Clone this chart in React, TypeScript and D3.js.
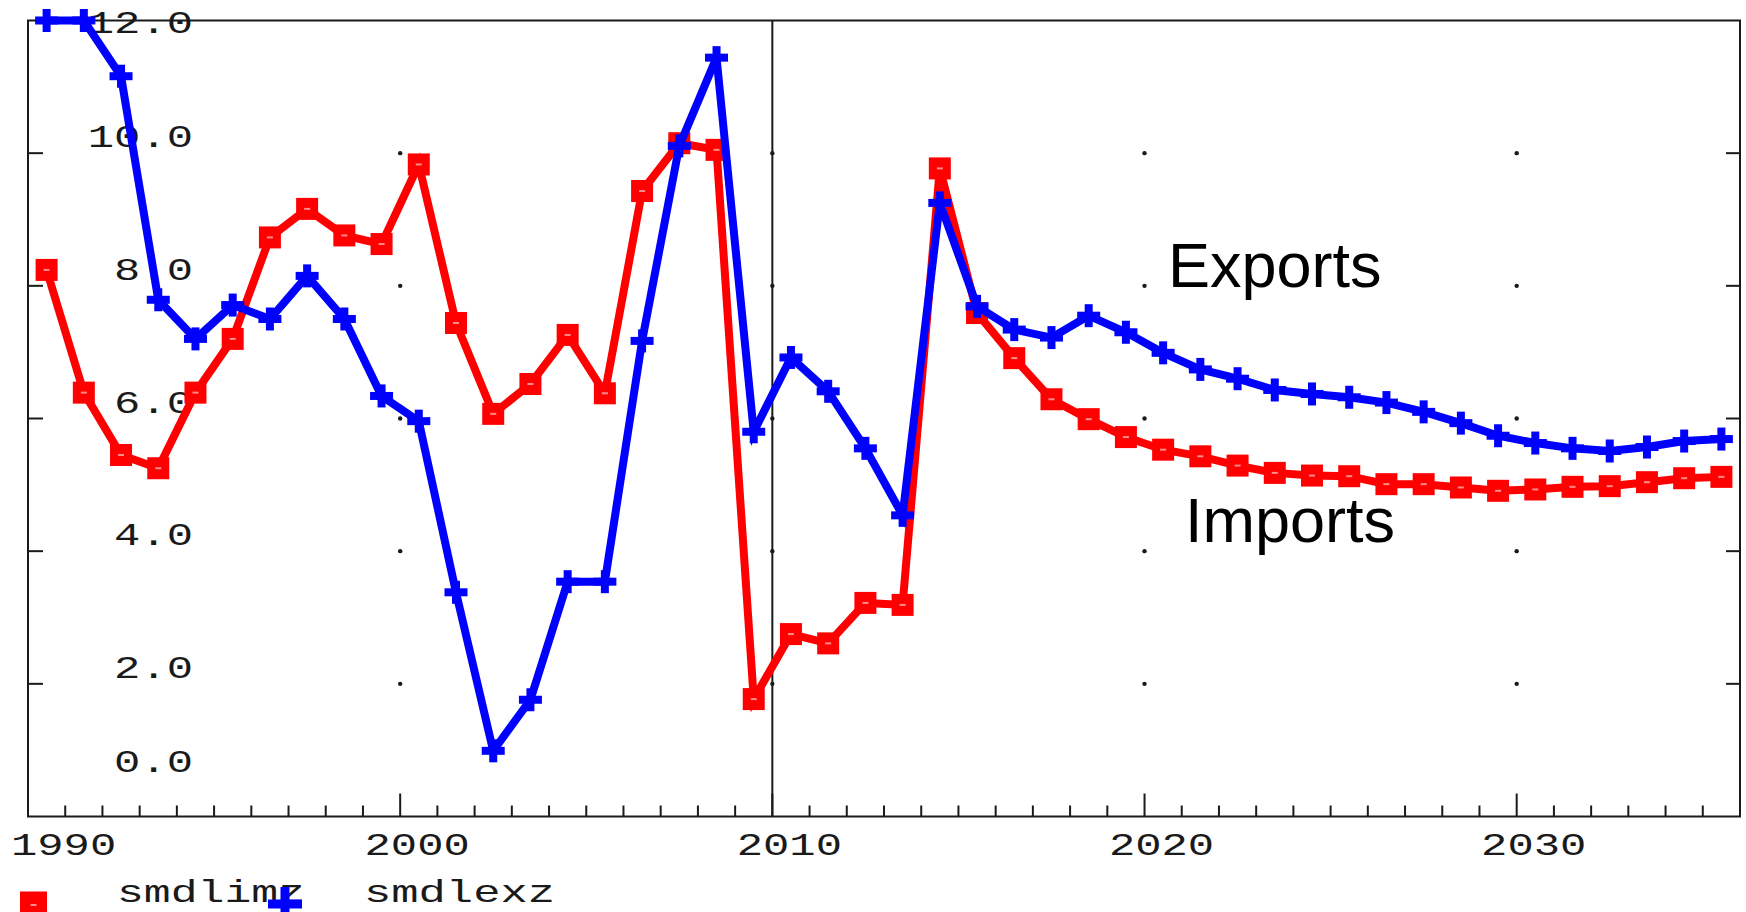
import * as d3 from "d3";

// annual values, plotted at mid-year
const years = d3.range(1990, 2036);

const imports = [
  8.24, 6.39, 5.45, 5.25, 6.39, 7.2, 8.73, 9.16, 8.76, 8.63,
  9.83, 7.44, 6.07, 6.52, 7.26, 6.38, 9.43, 10.15, 10.05, 1.77,
  2.75, 2.61, 3.22, 3.19, 9.77, 7.59, 6.91, 6.29, 5.99, 5.72,
  5.53, 5.43, 5.29, 5.18, 5.14, 5.13, 5.01, 5.01, 4.96, 4.91,
  4.93, 4.97, 4.98, 5.04, 5.1, 5.12,
];

const exports = [
  12.0, 12.0, 11.16, 7.79, 7.2, 7.71, 7.5, 8.15, 7.5, 6.34,
  5.96, 3.38, 0.99, 1.76, 3.54, 3.54, 7.17, 10.11, 11.44, 5.8,
  6.92, 6.41, 5.55, 4.54, 9.25, 7.69, 7.34, 7.22, 7.55, 7.3,
  6.99, 6.74, 6.6, 6.43, 6.37, 6.32, 6.24, 6.1, 5.93, 5.74,
  5.63, 5.55, 5.51, 5.57, 5.66, 5.69,
];

const yTicks = [0, 2, 4, 6, 8, 10, 12];
const xMajor = [1990, 2000, 2010, 2020, 2030];
const gridYears = [2000, 2010, 2020, 2030];
const gridValues = [2, 4, 6, 8, 10];

const W = 1746;
const H = 912;
const RED = "#ff0000";
const BLUE = "#0000ff";
const INK = "#1a1a1a";
const MONO = "'Liberation Mono', 'DejaVu Sans Mono', monospace";
const SANS = "'Liberation Sans', Arial, sans-serif";

function Plus({ x, y, size = 23, t = 8, color = BLUE }: any) {
  return (
    <g fill={color}>
      <rect x={x - size / 2} y={y - t / 2} width={size} height={t} />
      <rect x={x - t / 2} y={y - size / 2} width={t} height={size} />
    </g>
  );
}

function Box({ x, y, size = 22, color = RED }: any) {
  return (
    <g>
      <rect x={x - size / 2} y={y - size / 2} width={size} height={size} fill={color} />
      <rect x={x - 3} y={y - 1} width={6} height={2} fill="#ff8c8c" />
    </g>
  );
}

export default function App() {
  const x = d3.scaleLinear().domain([1990, 2036]).range([28, 1740]);
  const y = d3.scaleLinear().domain([0, 12]).range([816.5, 20.5]);
  const [x0, x1] = x.range();
  const [yb, yt] = y.range();

  const line = d3
    .line<number>()
    .x((_, i) => x(years[i] + 0.5))
    .y((d) => y(d));

  const charW = 26.3;

  return (
    <svg
      width={W}
      height={H}
      style={{ position: "absolute", left: 0, top: 0, display: "block", background: "#fff" }}
    >
      {/* frame */}
      <rect x={x0} y={yt} width={x1 - x0} height={yb - yt} fill="none" stroke={INK} strokeWidth={2} />
      <line x1={x(2010)} x2={x(2010)} y1={yt} y2={yb} stroke={INK} strokeWidth={2} />

      {/* grid dots */}
      {gridYears.map((gy) =>
        gridValues.map((gv) => (
          <circle key={`${gy}-${gv}`} cx={x(gy)} cy={y(gv)} r={2.2} fill={INK} />
        ))
      )}

      {/* y ticks */}
      {gridValues.map((v) => (
        <g key={v} stroke={INK} strokeWidth={2}>
          <line x1={x0} x2={x0 + 15} y1={y(v)} y2={y(v)} />
          <line x1={x1} x2={x1 - 14} y1={y(v)} y2={y(v)} />
        </g>
      ))}

      {/* x ticks */}
      {years.slice(1).map((yr) => {
        const major = yr % 10 === 0;
        return (
          <line
            key={yr}
            x1={x(yr)}
            x2={x(yr)}
            y1={yb}
            y2={yb - (major ? 23 : 11)}
            stroke={INK}
            strokeWidth={2}
          />
        );
      })}

      {/* y labels */}
      {yTicks.map((v) => {
        const s = v.toFixed(1);
        const cy = Math.max(22, Math.min(761, y(v) - 17));
        return (
          <text
            key={v}
            x={193}
            y={cy + 11}
            textAnchor="end"
            fontFamily={MONO}
            fontSize={32}
            fill={INK}
            textLength={s.length * charW}
            lengthAdjust="spacingAndGlyphs"
          >
            {s}
          </text>
        );
      })}

      {/* x labels */}
      {xMajor.map((yr) => {
        const s = String(yr);
        const w = s.length * charW;
        const cx = Math.max(11 + w / 2, x(yr) + 17);
        return (
          <text
            key={yr}
            x={cx - w / 2}
            y={855}
            fontFamily={MONO}
            fontSize={32}
            fill={INK}
            textLength={w}
            lengthAdjust="spacingAndGlyphs"
          >
            {s}
          </text>
        );
      })}

      {/* imports */}
      <path d={line(imports) ?? ""} fill="none" stroke={RED} strokeWidth={8} strokeLinejoin="miter" />
      {imports.map((v, i) => (
        <Box key={i} x={x(years[i] + 0.5)} y={y(v)} />
      ))}

      {/* exports */}
      <path d={line(exports) ?? ""} fill="none" stroke={BLUE} strokeWidth={8} strokeLinejoin="miter" />
      {exports.map((v, i) => (
        <Plus key={i} x={x(years[i] + 0.5)} y={y(v)} />
      ))}

      {/* annotations */}
      <text x={1168} y={287} fontFamily={SANS} fontSize={63} fill="#000">
        Exports
      </text>
      <text x={1185} y={542} fontFamily={SANS} fontSize={63} fill="#000">
        Imports
      </text>

      {/* legend */}
      <Box x={33.5} y={905} size={27} />
      <text
        x={117}
        y={902}
        fontFamily={MONO}
        fontSize={32}
        fill={INK}
        textLength={188}
        lengthAdjust="spacingAndGlyphs"
      >
        smdlimz
      </text>
      <Plus x={285} y={904} size={34} t={9} />
      <text
        x={364}
        y={902}
        fontFamily={MONO}
        fontSize={32}
        fill={INK}
        textLength={191}
        lengthAdjust="spacingAndGlyphs"
      >
        smdlexz
      </text>
    </svg>
  );
}
